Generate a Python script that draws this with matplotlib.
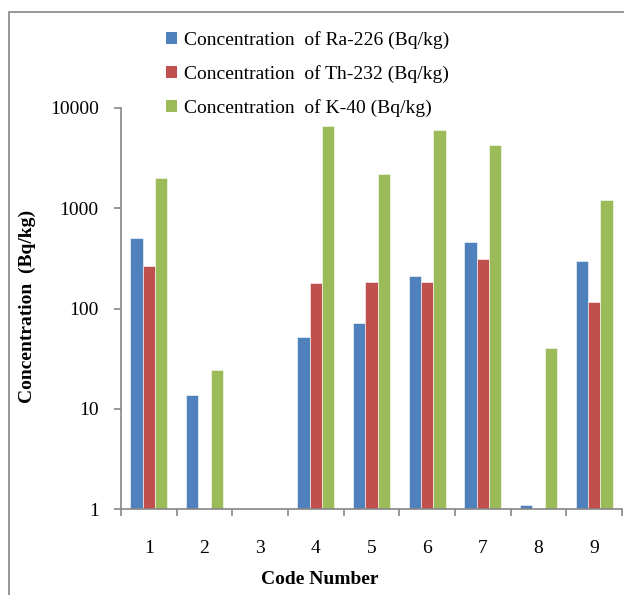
import numpy as np
import matplotlib
matplotlib.use("Agg")
import matplotlib.pyplot as plt
from matplotlib.patches import Rectangle, Patch

codes = ["1", "2", "3", "4", "5", "6", "7", "8", "9"]
ra226 = [510, 13.7, np.nan, 52, 72, 213, 462, 1.09, 296]
th232 = [266, np.nan, np.nan, 180, 185, 182, 313, np.nan, 117]
k40 = [1990, 24.5, np.nan, 6660, 2215, 5980, 4280, 40.2, 1211]

series_labels = ["Concentration  of Ra-226 (Bq/kg)",
                 "Concentration  of Th-232 (Bq/kg)",
                 "Concentration  of K-40 (Bq/kg)"]
colors = ["#4F81BD", "#C0504D", "#9BBB59"]

plt.rcParams['font.family'] = ['Liberation Serif', 'DejaVu Serif']
W, H = 624, 595
fs = 14
fig = plt.figure(figsize=(W / 100, H / 100), dpi=100)

# outer chart border
fig.patches.append(Rectangle((9 / W, -0.1), 1.2, 1 - 12 / H + 0.1,
                             transform=fig.transFigure, fill=False,
                             edgecolor="#868686", lw=1.2))

ax = fig.add_axes([121 / W, 1 - 509 / H, (622 - 121) / W, (509 - 108) / H])
x = np.arange(1, len(codes) + 1)
bw = 0.22
for i, (vals, c, lab) in enumerate(zip([ra226, th232, k40], colors, series_labels)):
    ax.bar(x + (i - 1) * bw, vals, width=bw, color=c, edgecolor="white",
           linewidth=0.4, label=lab, bottom=0)

ax.set_yscale("log")
ax.set_ylim(1, 10000)
ax.set_xlim(0.5, 9.5)
ax.set_yticks([1, 10, 100, 1000, 10000])
ax.set_yticklabels(["1", "10", "100", "1000", "10000"])
ax.yaxis.set_minor_locator(matplotlib.ticker.NullLocator())
ax.set_xticks(np.arange(0.5, 9.6, 1.0))
ax.set_xticklabels([])
ax.set_xticks(x, minor=True)
ax.set_xticklabels(codes, minor=True)
ax.tick_params(axis="x", which="minor", length=0, pad=22, labelsize=fs)
ax.tick_params(axis="x", which="major", length=5, width=1.2, color="#868686", direction="out")
ax.tick_params(axis="y", which="major", length=5, width=1.2, color="#868686", direction="out",
               pad=11, labelsize=fs)
for s in ["top", "right"]:
    ax.spines[s].set_visible(False)
for s in ["left", "bottom"]:
    ax.spines[s].set_color("#868686")
    ax.spines[s].set_linewidth(1.2)

fig.text(27 / W, 1 - 306 / H, "Concentration  (Bq/kg)", rotation=90, fontweight="bold",
         fontsize=fs, ha="center", va="center")
fig.text(320 / W, 1 - 580 / H, "Code Number", fontweight="bold",
         fontsize=fs, ha="center", va="center")

handles = [Patch(facecolor=c) for c in colors]
fig.legend(handles, series_labels, loc="upper left",
           bbox_to_anchor=(166 / W, 1 - 31 / H), frameon=False,
           handlelength=0.55, handleheight=0.55, handletextpad=0.4,
           labelspacing=0.83, fontsize=fs, borderaxespad=0, borderpad=0)

fig.savefig("out.png", dpi=100)
